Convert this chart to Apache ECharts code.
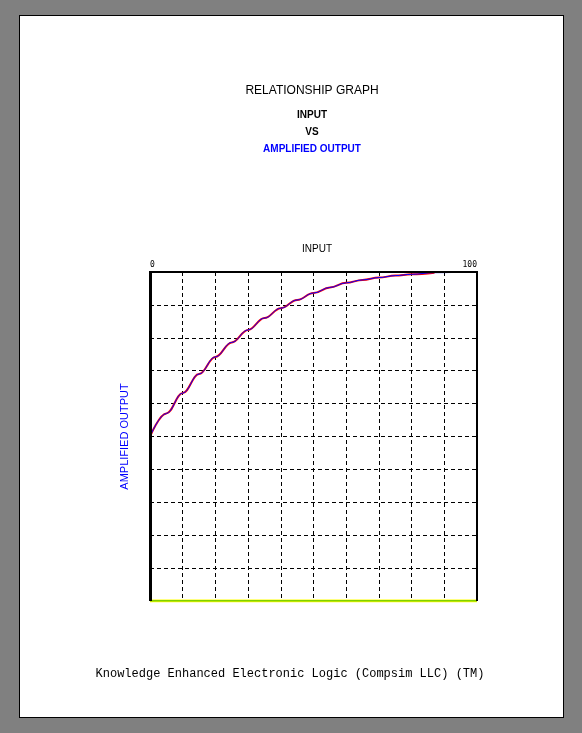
<!DOCTYPE html>
<html><head><meta charset="utf-8">
<script src="https://cdn.jsdelivr.net/npm/echarts@6/dist/echarts.min.js"></script>
<style>html,body{margin:0;padding:0;background:#808080;}
#page{position:absolute;left:19px;top:15px;width:543px;height:701px;background:#fff;border:1px solid #000;}
#c{position:absolute;left:0;top:0;width:582px;height:733px;}</style></head>
<body><div id="page"></div><div id="c"></div>
<script>
const inputX = [0,5,10,15,20,25,30,35,40,45,50,55,60,65,70,75,80,87];
const redY   = [50,57,63.2,69,74.2,78.6,82.4,86,89,91.5,93.6,95.3,96.7,97.6,98.3,98.9,99.3,99.8];
const blueX  = [0,5,10,15,20,25,30,35,40,45,50,55,60,65,70,75,80,87,100];
const blueY  = [50,57,63.2,69,74.2,78.6,82.4,86,89,91.5,93.6,95.3,96.7,97.6,98.3,98.9,99.3,99.8,100];
const baseX = [0,100];
const baseY = [0,0];
const zip=(a,b)=>a.map((v,i)=>[v,b[i]]);
const ch = echarts.init(document.getElementById('c'));
const t=(text,top,size,bold,color)=>({text,left:307,top,textAlign:'center',textStyle:{fontFamily:'Arial',fontSize:size,fontWeight:bold?'bold':'normal',color}});
ch.setOption({
 animation:false,
 title:[
  t('RELATIONSHIP GRAPH',80,12,false,'#000'),
  t('INPUT',105,10,true,'#000'),
  t('VS',122,10,true,'#000'),
  t('AMPLIFIED OUTPUT',139,10,true,'#0000ff'),
  {text:'INPUT',left:312,top:239,textAlign:'center',textStyle:{fontFamily:'Arial',fontSize:10,fontWeight:'normal',color:'#000'}},
  {text:'Knowledge Enhanced Electronic Logic (Compsim LLC) (TM)',left:285,top:663,textAlign:'center',textStyle:{fontFamily:'Liberation Mono',fontSize:12,fontWeight:'normal',color:'#000'}}
 ],
 grid:{left:150,top:272,width:327,height:329},
 xAxis:{type:'value',min:0,max:100,interval:10,position:'top',
  axisLine:{show:false},axisTick:{show:false},
  axisLabel:{margin:3,fontSize:8,color:'#000',fontFamily:'DejaVu Sans Mono',
   formatter:v=>(v===0||v===100)?String(v):'',alignMinLabel:'left',alignMaxLabel:'right'},
  splitLine:{show:true,lineStyle:{color:'#000',type:[4,3],width:1}}},
 yAxis:{type:'value',min:0,max:100,interval:10,
  name:'AMPLIFIED OUTPUT',nameLocation:'middle',nameGap:20,nameRotate:90,
  nameTextStyle:{color:'#0000ff',fontFamily:'Arial',fontSize:11},
  axisLine:{show:false},axisTick:{show:false},axisLabel:{show:false},
  splitLine:{show:true,lineStyle:{color:'#000',type:[4,3],width:1}}},
 series:[
  {type:'line',data:zip(baseX,baseY),symbol:'none',lineStyle:{color:'#ffff00',width:3},z:3},
  {type:'line',data:zip(baseX,baseY),symbol:'none',lineStyle:{color:'#00a000',width:1},z:4},
  {type:'line',data:zip(inputX,redY),symbol:'none',smooth:0.4,smoothMonotone:'x',lineStyle:{color:'#ff0000',width:2},z:5},
  {type:'line',data:zip(blueX,blueY),symbol:'none',smooth:0.4,smoothMonotone:'x',lineStyle:{color:'#0000ff',width:1},z:6}
 ],
 graphic:[
  {type:'rect',shape:{x:476,y:271,width:2,height:330},style:{fill:'#000'},z:10},
  {type:'rect',shape:{x:149,y:271,width:3,height:330},style:{fill:'#000'},z:10},
  {type:'rect',shape:{x:149,y:271,width:329,height:2},style:{fill:'#000'},z:10}
 ]
});
</script></body></html>
